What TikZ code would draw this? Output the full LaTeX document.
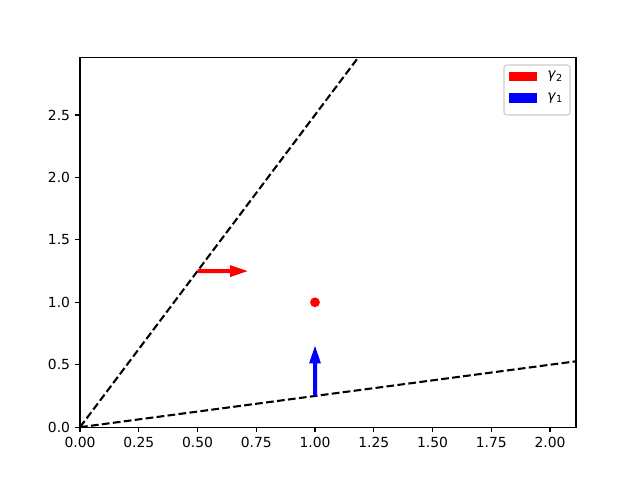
\documentclass[tikz,border=0pt]{standalone}
\usepackage{fontspec}
\setmainfont{DejaVu Sans}
\newcommand{\gam}[1]{\textit{γ}\raisebox{-0.3ex}{\fontsize{7}{8}\selectfont #1}}
\begin{document}
\begin{tikzpicture}[x=0.72pt,y=0.72pt,
  spine/.style={line width=0.8pt,black},
  tickmark/.style={line width=0.8pt,black},
  ticklbl/.style={font=\fontsize{10}{12}\selectfont,inner sep=0pt},
  dashline/.style={line width=1.5pt,black,dash pattern=on 5.55pt off 2.4pt},
  legbox/.style={draw=black!20,fill=white,rounded corners=2pt,line width=0.8pt}]
\useasboundingbox (0,0) rectangle (640,480);
% data lines
\begin{scope}
  \clip (80,52.8) rectangle (576,422.4);
  \begin{scope}[shift={(57.6pt,38.016pt)}, x=169.2pt, y=89.93pt]
    \coordinate (o) at (0,0);
    \coordinate (u) at (1.2,3.0);
    \coordinate (l) at (2.2,0.55);
    \draw[dashline] (o) -- (u);
    \draw[dashline] (o) -- (l);
  \end{scope}
  % red arrow (gamma2)
  \fill[red] (197.5,206.9) -- (230,206.9) -- (230,202.9) -- (247.5,208.9) -- (230,214.9) -- (230,210.9) -- (197.5,210.9) -- cycle;
  % blue arrow (gamma1)
  \fill[blue] (313,84) -- (313,116.5) -- (309,116.5) -- (315,134) -- (321,116.5) -- (317,116.5) -- (317,84) -- cycle;
  % red dot
  \fill[red] (315,177.7) circle (4.9);
\end{scope}
% axes frame
\draw[spine] (80,52.8) rectangle (576,422.4);
% x ticks
\foreach \v/\t in {0/0.00,1/0.25,2/0.50,3/0.75,4/1.00,5/1.25,6/1.50,7/1.75,8/2.00}{
  \draw[tickmark] ({80+58.75*\v},52.8) -- ++(0,-4.86);
  \node[ticklbl,anchor=north] at ({80+58.75*\v},43.1) {\t};
}
% y ticks
\foreach \v/\t in {0/0.0,1/0.5,2/1.0,3/1.5,4/2.0,5/2.5}{
  \draw[tickmark] (80,{52.8+62.45*\v}) -- ++(-4.86,0);
  \node[ticklbl,anchor=east] at (70.3,{52.8+62.45*\v}) {\t};
}
% legend
\draw[legbox] (504,365) rectangle (570,415);
\fill[red] (509,399) rectangle (537,408);
\fill[blue] (509,377) rectangle (537,387);
\node[ticklbl,anchor=west] (g2) at (547,403.5) {\gam{2}};
\node[ticklbl,anchor=west] (g1) at (547,382) {\gam{1}};
\end{tikzpicture}
\end{document}
